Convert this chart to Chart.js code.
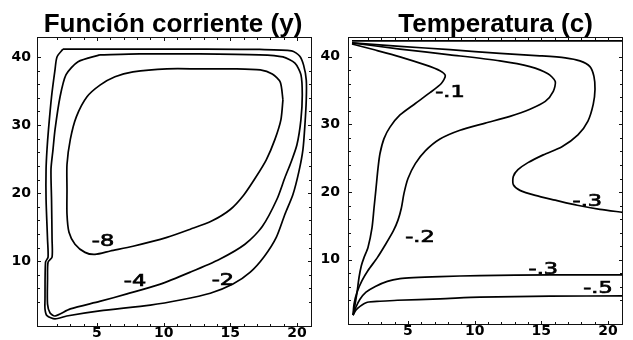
<!DOCTYPE html>
<html lang="es">
<head>
<meta charset="utf-8">
<title>Función corriente y Temperatura</title>
<script src="https://cdn.jsdelivr.net/npm/chart.js@4.4.1/dist/chart.umd.min.js"></script>
<style>
  html, body { margin: 0; padding: 0; background: #fff; overflow: hidden; }
  #wrap { position: relative; width: 633px; height: 340px; }
  canvas { position: absolute; top: 0; }
  #psiChart { left: 0; }
  #tempChart { left: 316px; }
</style>
</head>
<body>
<div id="wrap">
  <canvas id="psiChart" width="316" height="340"></canvas>
  <canvas id="tempChart" width="317" height="340"></canvas>
</div>
<script>
// Two contour panels: stream function (left) and temperature (right).
// Each contour line is a list of [x, y] points.

const X_TICK_LABELS = [5, 10, 15, 20];
const Y_TICK_LABELS = [10, 20, 30, 40];

// --- Función corriente (y) ---
const psiMinus8 = [
  [18.95, 33.7], [18.8, 30.8], [18.35, 27.9], [17.7, 24.9], [16.9, 22.3], [16.0, 19.7],
  [15.0, 17.6], [13.6, 15.9], [12.0, 14.7], [10.25, 13.5], [7.7, 12.2],
  [6.0, 11.5], [4.85, 11.0], [4.1, 11.3], [3.35, 12.5], [2.9, 14.25], [2.75, 16.9],
  [2.75, 20.5], [2.75, 24.2], [3.0, 27.9], [3.45, 31.2], [4.25, 34.15], [5.25, 35.9],
  [6.35, 37.1], [7.7, 37.8], [10.25, 38.25], [12.75, 38.25], [15.2, 38.25], [17.25, 38.1],
  [18.15, 37.5], [18.75, 36.3], [18.95, 33.7]
];
const psiMinus4 = [
  [5.2, 40.3], [8.2, 40.45], [12.7, 40.45], [17.2, 40.3], [18.95, 40.0], [19.85, 39.1],
  [20.3, 37.4], [20.4, 34.4], [20.3, 30.8], [20.0, 27.1], [19.55, 24.5], [19.1, 22.3],
  [18.5, 19.1], [17.4, 15.1], [16.1, 12.5], [14.2, 10.3], [12.0, 8.4], [9.7, 6.6],
  [7.25, 5.2], [5.2, 4.1], [3.0, 3.0], [1.85, 1.96], [1.48, 2.4], [1.29, 3.7],
  [1.29, 7.4], [1.33, 9.86], [1.63, 10.6], [1.63, 13.2], [1.59, 19.1], [1.55, 23.5],
  [1.7, 26.4], [1.85, 29.3], [2.23, 34.15], [2.68, 37.4], [3.58, 39.3], [5.2, 40.3]
];
const psiMinus2 = [
  [2.45, 41.15], [6.7, 41.15], [12.7, 41.15], [17.2, 41.1], [19.6, 40.9], [20.2, 40.15],
  [20.5, 38.8], [20.7, 36.6], [20.7, 33.7], [20.6, 30.05], [20.45, 26.4], [20.15, 23.2],
  [19.7, 19.8], [19.1, 16.9], [18.45, 13.5], [17.55, 10.7], [16.5, 8.4], [15.2, 6.65],
  [13.5, 5.3], [11.25, 4.3], [9.0, 3.55], [5.2, 2.7], [2.73, 1.95], [1.85, 1.52],
  [1.25, 2.0], [1.1, 2.98], [1.1, 4.44], [1.14, 9.86], [1.33, 10.6], [1.29, 13.2],
  [1.18, 19.1], [1.18, 23.5], [1.25, 26.4], [1.36, 29.3], [1.59, 34.15], [1.85, 38.1],
  [2.0, 40.0], [2.45, 41.15]
];
const psiLabels = [
  { text: "-8", x: 5.45, y: 12.8 },
  { text: "-4", x: 7.85, y: 6.9 },
  { text: "-2", x: 14.45, y: 7.1 }
];

// --- Temperatura (c) ---
const tempTop = [[0.8, 42.35], [21.13, 42.35]];
const tempMinus1 = [
  [0.8, 41.9], [2.55, 41.0], [4.4, 40.0], [6.3, 38.8], [7.4, 37.95], [7.8, 37.2],
  [7.5, 36.05], [6.65, 34.7], [5.55, 33.1], [4.4, 31.4], [3.65, 29.6], [3.2, 27.9],
  [2.9, 25.7], [2.75, 23.5], [2.6, 20.5], [2.45, 17.6], [2.3, 14.7], [2.0, 11.8],
  [1.7, 10.3], [1.5, 9.1], [1.33, 7.4], [1.18, 5.2], [1.03, 3.4], [0.88, 1.8]
];
const tempMinus2 = [
  [0.8, 42.05], [4.4, 41.15], [8.15, 40.3], [11.9, 39.4], [14.15, 38.55], [15.5, 37.5],
  [16.05, 36.35], [15.9, 34.9], [15.3, 33.4], [14.15, 32.25], [12.65, 31.2], [10.8, 30.2],
  [8.9, 29.15], [7.4, 27.85], [6.3, 26.1], [5.55, 24.2], [5.0, 22.0], [4.7, 19.8],
  [4.5, 17.6], [4.25, 15.85], [3.9, 14.25], [3.3, 12.2], [2.7, 10.3], [2.0, 8.4],
  [1.55, 6.9], [1.18, 5.2], [0.95, 3.4], [0.88, 1.8]
];
const tempMinus3Upper = [
  [0.8, 42.05], [4.4, 41.55], [8.15, 41.05], [11.9, 40.5], [14.9, 40.15], [16.8, 39.85],
  [17.9, 39.4], [18.65, 38.55], [18.95, 37.1], [19.03, 35.2], [18.9, 33.0], [18.5, 30.5],
  [17.75, 28.45], [16.55, 26.7], [15.15, 25.5], [14.0, 24.35], [13.25, 23.3], [12.9, 22.3],
  [12.9, 21.1], [13.4, 20.25], [14.55, 19.5], [16.05, 18.8], [17.7, 18.05], [19.4, 17.45],
  [21.1, 17.0]
];
const tempMinus3Lower = [
  [0.88, 1.8], [1.1, 3.0], [1.4, 4.15], [1.85, 5.2], [2.55, 6.05], [3.45, 6.8],
  [4.4, 7.2], [5.4, 7.35], [7.4, 7.5], [10.4, 7.65], [15.65, 7.75], [21.13, 7.75]
];
const tempMinus5 = [
  [0.88, 1.8], [1.1, 2.55], [1.4, 3.1], [1.95, 3.7], [2.9, 3.85], [4.2, 4.0],
  [7.4, 4.2], [10.4, 4.45], [15.65, 4.6], [21.13, 4.65]
];
const tempLabels = [
  { text: "-.1", x: 8.15, y: 34.7 },
  { text: "-.2", x: 5.9, y: 13.2 },
  { text: "-.3", x: 18.45, y: 18.6 },
  { text: "-.3", x: 15.15, y: 8.5 },
  { text: "-.5", x: 19.25, y: 5.75 }
];

const X_MIN = 0.5, X_MAX = 21.13, Y_MIN = 0.34, Y_MAX = 42.93;

const isLabeled = (v, list) => Math.abs(v - Math.round(v)) < 1e-6 && list.includes(Math.round(v));

// Box around the plot with short inward ticks on all four sides.
const framePlugin = {
  id: "frame",
  afterDraw(chart) {
    const { ctx, chartArea: a, scales: { x, y } } = chart;
    ctx.save();
    ctx.strokeStyle = "#111";
    ctx.lineWidth = 1;
    ctx.strokeRect(a.left + 0.5, a.top + 0.5, a.right - a.left - 1, a.bottom - a.top - 1);
    ctx.beginPath();
    x.ticks.forEach(t => {
      if (Math.abs(t.value - Math.round(t.value)) > 1e-6) return;
      const px = Math.round(x.getPixelForValue(t.value)) + 0.5;
      const len = isLabeled(t.value, X_TICK_LABELS) ? 4 : 3;
      ctx.moveTo(px, a.bottom); ctx.lineTo(px, a.bottom - len);
      ctx.moveTo(px, a.top); ctx.lineTo(px, a.top + len);
    });
    y.ticks.forEach(t => {
      if (Math.abs(t.value - Math.round(t.value)) > 1e-6) return;
      const py = Math.round(y.getPixelForValue(t.value)) + 0.5;
      const len = isLabeled(t.value, Y_TICK_LABELS) ? 4 : 3;
      ctx.moveTo(a.left, py); ctx.lineTo(a.left + len, py);
      ctx.moveTo(a.right, py); ctx.lineTo(a.right - len, py);
    });
    ctx.stroke();
    ctx.restore();
  }
};

// Contour level labels, placed in data coordinates. The original lettering
// is stretched sideways and fairly heavy, so scale it and add a thin outline.
const contourLabelPlugin = {
  id: "contourLabels",
  afterDatasetsDraw(chart, args, opts) {
    const { ctx, scales: { x, y } } = chart;
    const stretch = 1.4;
    ctx.save();
    ctx.fillStyle = "#000";
    ctx.strokeStyle = "#000";
    ctx.lineWidth = 0.7;
    ctx.font = '16px "DejaVu Sans", sans-serif';
    ctx.textAlign = "center";
    ctx.textBaseline = "middle";
    (opts.items || []).forEach(l => {
      const px = x.getPixelForValue(l.x), py = y.getPixelForValue(l.y);
      ctx.save();
      ctx.translate(px, py);
      ctx.scale(stretch, 1);
      ctx.fillText(l.text, 0, 0);
      ctx.strokeText(l.text, 0, 0);
      ctx.restore();
    });
    ctx.restore();
  }
};

// Panel heading, drawn at a fixed spot above the plot.
const panelTitlePlugin = {
  id: "panelTitle",
  afterDraw(chart, args, opts) {
    const { ctx } = chart;
    ctx.save();
    ctx.fillStyle = "#000";
    ctx.font = 'bold 26px "Liberation Sans", Arial, sans-serif';
    ctx.textAlign = "center";
    ctx.textBaseline = "alphabetic";
    ctx.fillText(opts.text, opts.x, opts.baseline);
    ctx.restore();
  }
};

function makePanel(canvasId, title, titleX, curves, labels, yAxisWidth, padRight, yLabelPad) {
  const tickFont = { family: "'DejaVu Sans', sans-serif", size: 14, weight: "bold", lineHeight: 1 };
  return new Chart(document.getElementById(canvasId), {
    type: "scatter",
    data: {
      datasets: curves.map(c => ({
        data: c.map(p => ({ x: p[0], y: p[1] })),
        showLine: true,
        borderColor: "#000",
        borderWidth: 1.7,
        pointRadius: 0,
        tension: 0.25,
        fill: false
      }))
    },
    options: {
      responsive: false,
      devicePixelRatio: 1,
      animation: false,
      layout: { padding: { top: 37, right: padRight, left: 0, bottom: 0 } },
      scales: {
        x: {
          type: "linear", min: X_MIN, max: X_MAX,
          border: { display: false },
          grid: { display: false, drawTicks: false },
          ticks: {
            stepSize: 1, autoSkip: false, maxRotation: 0, minRotation: 0, padding: -1,
            color: "#000", font: tickFont,
            callback: v => isLabeled(v, X_TICK_LABELS) ? String(Math.round(v)) : ""
          },
          afterFit: s => { s.height = 12; }
        },
        y: {
          type: "linear", min: Y_MIN, max: Y_MAX,
          border: { display: false },
          grid: { display: false, drawTicks: false },
          ticks: {
            stepSize: 2, autoSkip: false, padding: yLabelPad,
            color: "#000", font: tickFont,
            callback: v => isLabeled(v, Y_TICK_LABELS) ? String(Math.round(v)) : ""
          },
          afterFit: s => { s.width = yAxisWidth; }
        }
      },
      plugins: {
        legend: { display: false },
        tooltip: { enabled: false },
        title: { display: false },
        contourLabels: { items: labels },
        panelTitle: { text: title, x: titleX, baseline: 32 }
      }
    },
    plugins: [framePlugin, contourLabelPlugin, panelTitlePlugin]
  });
}

makePanel("psiChart", "Función corriente (y)", 173,
  [psiMinus8, psiMinus4, psiMinus2], psiLabels, 37, 4, 6);
makePanel("tempChart", "Temperatura (c)", 179.5,
  [tempTop, tempMinus1, tempMinus2, tempMinus3Upper, tempMinus3Lower, tempMinus5], tempLabels, 32, 10, 8);
</script>
</body>
</html>
